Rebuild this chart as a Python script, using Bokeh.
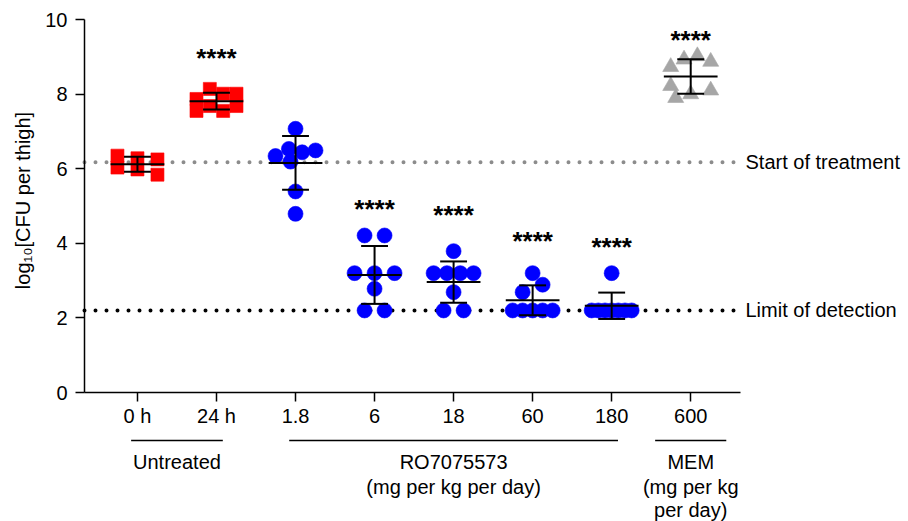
import numpy as np
from bokeh.plotting import figure
from bokeh.models import Range1d, FixedTicker, ColumnDataSource
from bokeh.core.properties import value
from bokeh.embed import file_html
from bokeh.resources import INLINE

# ---------------- data (log10 CFU per thigh) ----------------
categories = ["0 h", "24 h", "1.8", "6", "18", "60", "180", "600"]
untreated_0h = [6.35, 6.28, 6.25, 6.03, 5.98, 5.84]
untreated_24h = [7.87, 8.14, 8.01, 8.01, 7.55, 7.68, 7.55, 7.68]
ro_1_8 = [7.07, 6.34, 6.53, 6.44, 6.49, 6.19, 5.39, 4.79]
ro_6 = [4.21, 4.21, 3.20, 3.20, 3.20, 2.78, 2.20, 2.20]
ro_18 = [3.79, 3.20, 3.20, 3.20, 3.20, 2.69, 2.20, 2.20]
ro_60 = [3.20, 2.69, 2.89, 2.20, 2.20, 2.20, 2.20, 2.20]
ro_180 = [3.20, 2.20, 2.20, 2.20, 2.20, 2.20, 2.20, 2.20]
mem_600 = [8.73, 8.93, 9.02, 8.87, 8.22, 8.00, 8.10, 7.90]
series = [untreated_0h, untreated_24h, ro_1_8, ro_6, ro_18, ro_60, ro_180, mem_600]

significance = ["", "****", "", "****", "****", "****", "****", "****"]
significance_y = [None, 8.98, None, 4.93, 4.75, 4.07, 3.89, 9.44]

start_of_treatment = 6.17
limit_of_detection = 2.2

y_label = "log\u2081\u2080[CFU per thigh]"
group_names = [["Untreated"], ["RO7075573", "(mg per kg per day)"], ["MEM", "(mg per kg", "per day)"]]
group_members = [(0, 1), (2, 6), (7, 7)]
y_ticks = [0, 2, 4, 6, 8, 10]

# ---------------- layout ----------------
W, H = 908, 521
AXIS_PX_LEFT, AXIS_PX_RIGHT = 84, 740     # pixel columns of the x axis ends
Y_TOP_PX, Y_ZERO_PX = 19, 392             # pixel rows of y=10 and y=0
AX_LEFT, AX_RIGHT = -0.67, 7.63           # x axis extent in category units
xpx = (AXIS_PX_RIGHT - AXIS_PX_LEFT) / (AX_RIGHT - AX_LEFT)
ypx = (Y_ZERO_PX - Y_TOP_PX) / 10.0
X0 = AX_LEFT - AXIS_PX_LEFT / xpx
X1 = X0 + W / xpx
Y1 = 10 + Y_TOP_PX / ypx
Y0 = -(H - Y_ZERO_PX) / ypx
FONT = "Liberation Sans"
FS = "20px"


def xdata(px):
    return X0 + px / xpx


def ydata(py):
    return (Y_ZERO_PX - py) / ypx


p = figure(width=W, height=H, output_backend="svg", toolbar_location=None,
           x_range=Range1d(X0, X1), y_range=Range1d(Y0, Y1),
           min_border_left=0, min_border_right=0, min_border_top=0, min_border_bottom=0)
p.outline_line_color = None
p.grid.visible = False
p.background_fill_color = "white"
p.border_fill_color = "white"


def swarm(vals, thr=0.3, width_px=40.0, max_step_px=20.0, d_px=12.5):
    vals = np.asarray(vals, float)
    order = sorted(range(len(vals)), key=lambda i: -vals[i])
    offs = np.zeros(len(vals))
    placed = []
    remaining = order[:]
    while remaining:
        top = vals[remaining[0]]
        row = [i for i in remaining if vals[i] >= top - thr - 1e-9]
        remaining = [i for i in remaining if i not in row]
        row.sort()
        n = len(row)
        if n == 1:
            i = row[0]
            cands = sorted(range(-30, 31, 5), key=lambda c: (abs(c), -c))
            chosen = cands[-1]
            for c in cands:
                if all(np.hypot(c - ox, (vals[i] - vals[j]) * ypx) >= d_px for j, ox in placed):
                    chosen = c
                    break
            offs[i] = chosen
            placed.append((i, chosen))
        else:
            step = min(max_step_px, width_px / (n - 1))
            for k, i in enumerate(row):
                c = (k - (n - 1) / 2) * step
                offs[i] = c
                placed.append((i, c))
    return offs / xpx


markers = ["square", "square", "circle", "circle", "circle", "circle", "circle", "triangle"]
colors = ["#ff0000", "#ff0000", "#0000ff", "#0000ff", "#0000ff", "#0000ff", "#0000ff", "#a6a6a6"]
sizes = [13, 13, 15, 15, 15, 15, 15, 16]

# reference lines (dotted), across the axis extent
p.segment(x0=[AX_LEFT], x1=[AX_RIGHT - 0.06], y0=[start_of_treatment], y1=[start_of_treatment],
          line_color="#8c8c8c", line_width=4, line_dash="0 11", line_cap="round")
p.segment(x0=[AX_LEFT], x1=[AX_RIGHT - 0.06], y0=[limit_of_detection], y1=[limit_of_detection],
          line_color="black", line_width=4, line_dash="0 11", line_cap="round")

for gi, vals in enumerate(series):
    offs = swarm(vals)
    src = ColumnDataSource(dict(x=gi + offs, y=vals))
    p.scatter("x", "y", source=src, marker=markers[gi], size=sizes[gi],
              fill_color=colors[gi], line_color=colors[gi], line_alpha=0.6)

# mean +/- SD
mx0, mx1, my, sx, sy0, sy1 = ([] for _ in range(6))
for gi, vals in enumerate(series):
    m = float(np.mean(vals)); s = float(np.std(vals, ddof=1))
    mx0.append(gi - 0.34); mx1.append(gi + 0.34); my.append(m)
    sx.append(gi); sy0.append(m - s); sy1.append(m + s)
p.segment(x0=mx0, x1=mx1, y0=my, y1=my, line_color="black", line_width=2)
p.segment(x0=sx, x1=sx, y0=sy0, y1=sy1, line_color="black", line_width=2)
p.segment(x0=[x - 0.17 for x in sx], x1=[x + 0.17 for x in sx], y0=sy0, y1=sy0, line_color="black", line_width=2)
p.segment(x0=[x - 0.17 for x in sx], x1=[x + 0.17 for x in sx], y0=sy1, y1=sy1, line_color="black", line_width=2)

# significance stars
sx_, sy_, st_ = [], [], []
for gi, (t, yv) in enumerate(zip(significance, significance_y)):
    if t and yv is not None:
        sx_.append(gi); sy_.append(yv); st_.append(t)
p.text(x=sx_, y=sy_, text=st_, text_align="center", text_baseline="middle",
       text_font=value(FONT), text_font_size="26px", text_font_style="bold", text_color="black")

# line labels on the right
p.text(x=[xdata(745)] * 2, y=[start_of_treatment, limit_of_detection],
       text=["Start of treatment", "Limit of detection"], text_align="left", text_baseline="middle",
       text_font=value(FONT), text_font_size=FS, text_color="black")

# axes (placed at fixed data locations, drawn by the library)
p.xaxis.fixed_location = 0
p.yaxis.fixed_location = AX_LEFT
p.xaxis.bounds = (AX_LEFT, AX_RIGHT)
p.yaxis.bounds = (0, 10)
p.xaxis.ticker = FixedTicker(ticks=list(range(len(categories))))
p.xaxis.major_label_overrides = {i: c for i, c in enumerate(categories)}
p.yaxis.ticker = FixedTicker(ticks=y_ticks)
for ax in (p.xaxis[0], p.yaxis[0]):
    ax.axis_line_width = 1.5
    ax.axis_line_color = "black"
    ax.major_tick_line_color = "black"
    ax.major_tick_line_width = 1.5
    ax.major_tick_in = 0
    ax.major_tick_out = 9
    ax.minor_tick_line_color = None
    ax.major_label_text_font = FONT
    ax.major_label_text_font_size = FS
    ax.major_label_text_color = "black"
p.xaxis.major_label_standoff = 3
p.yaxis.major_label_standoff = 8

# y axis title
p.text(x=[xdata(22)], y=[ydata(200)], text=[y_label], angle=np.pi / 2, text_align="center",
       text_baseline="middle", text_font=value(FONT), text_font_size=FS, text_color="black")

# group brackets and labels below the x axis
group_pad = [0.08, 0.08, 0.45]
line_py = 440
text_py = [461, 486, 509]
bx0, bx1, by = [], [], []
tx, ty, tt = [], [], []
for (a, b), names, pad in zip(group_members, group_names, group_pad):
    bx0.append(a - pad); bx1.append(b + pad); by.append(ydata(line_py))
    for k, t in enumerate(names):
        tx.append((a + b) / 2); ty.append(ydata(text_py[k])); tt.append(t)
p.segment(x0=bx0, x1=bx1, y0=by, y1=by, line_color="black", line_width=1.5)
p.text(x=tx, y=ty, text=tt, text_align="center", text_baseline="middle",
       text_font=value(FONT), text_font_size=FS, text_color="black")

open("out.html", "w").write(file_html(p, INLINE))
